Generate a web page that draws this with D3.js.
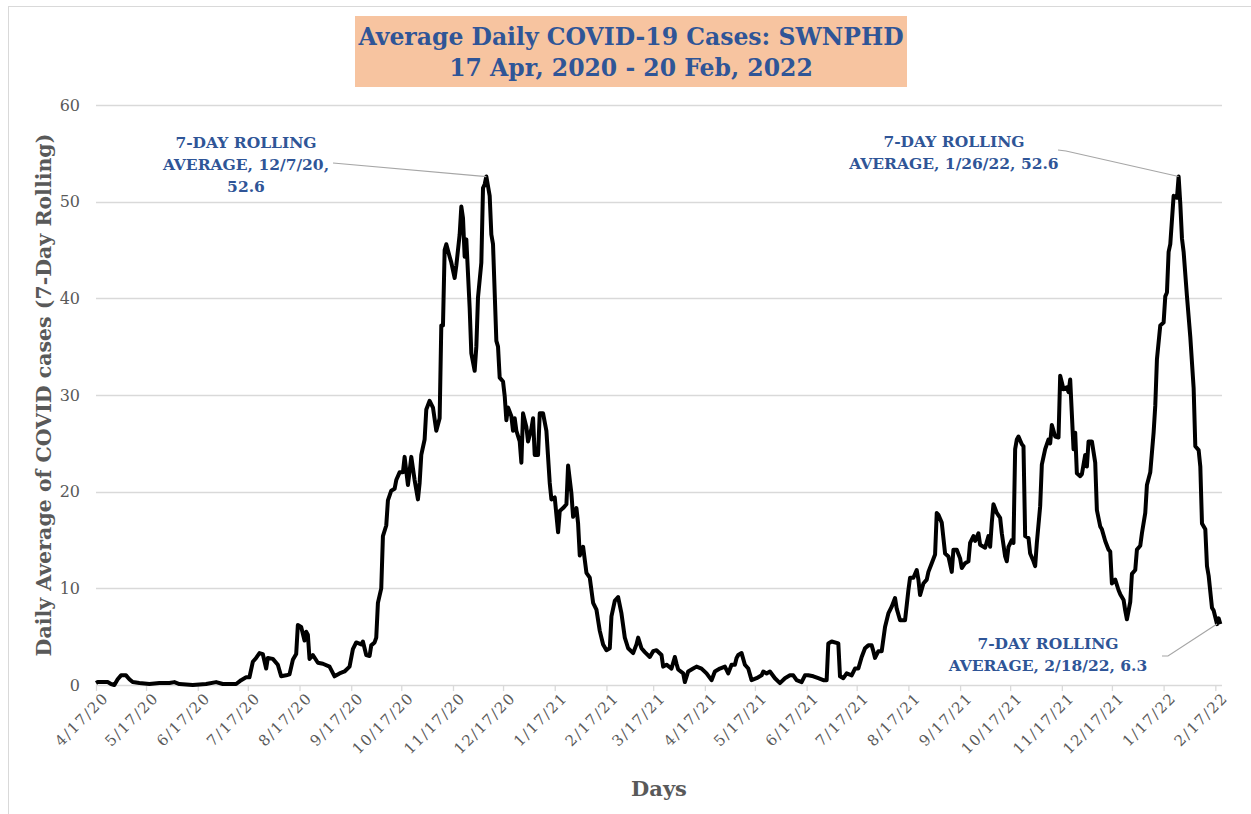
<!DOCTYPE html>
<html>
<head>
<meta charset="utf-8">
<script src="https://cdn.jsdelivr.net/npm/d3@7"></script>
<style>
  body { margin: 0; background: #fff; }
  svg { display: block; }
</style>
</head>
<body>
<div id="chart"></div>
<script>
// series: days since 17 Apr 2020, 7-day rolling average of daily cases
var startDate = new Date(2020, 3, 17);
var endDate = new Date(2022, 1, 21);
var dayIdx = [0,1,7,9,11,13,15,18,20,22,26,32,38,44,47,50,58,66,72,76,84,87,90,92,94,96,98,100,102,103,106,109,111,114,116,118,120,121,123,125,126,127,128,130,133,136,140,143,146,149,152,154,156,159,160,162,164,165,167,168,169,171,172,174,175,177,179,180,182,184,185,187,189,191,193,194,195,197,198,200,202,204,206,207,208,209,210,212,213,215,216,218,219,220,221,222,224,225,227,228,229,231,232,233,234,236,237,238,240,241,242,244,245,246,247,249,250,251,252,254,255,256,258,259,261,262,263,265,266,268,270,272,273,275,277,278,280,282,283,285,286,288,289,290,292,294,296,298,300,302,304,306,308,309,311,313,315,317,319,322,324,325,327,329,332,334,336,339,340,342,345,347,348,349,352,353,355,358,360,363,366,369,371,374,377,379,381,383,384,385,387,389,391,393,396,399,400,402,404,407,410,413,416,418,420,423,425,427,430,433,436,438,439,441,445,446,448,450,453,455,457,459,461,463,465,466,467,469,471,473,475,477,479,480,482,485,487,488,490,492,493,494,496,498,499,501,503,504,505,507,509,511,513,514,516,518,519,521,523,524,526,527,529,530,533,535,536,537,538,540,542,543,545,546,547,549,550,551,552,553,555,556,557,559,560,562,563,564,566,567,569,571,572,573,575,577,578,580,582,583,584,586,587,588,590,591,593,594,595,597,599,600,602,603,605,607,608,609,611,613,614,616,617,618,620,621,623,624,626,627,629,630,632,634,635,636,638,640,641,642,643,644,646,648,649,650,651,652,654,656,658,659,661,662,663,665,666,667,669,670,671,672,673,674];
var cases = [0.2,0.3,0.3,0.1,0.0,0.6,1.0,1.0,0.6,0.3,0.2,0.1,0.2,0.2,0.3,0.1,0.0,0.1,0.3,0.1,0.1,0.5,0.8,0.8,2.4,2.8,3.3,3.2,1.7,2.8,2.7,2.1,0.9,1.0,1.1,2.6,3.2,6.2,6.0,4.6,5.5,5.2,2.7,3.1,2.3,2.2,1.9,0.9,1.2,1.4,1.9,3.7,4.4,4.2,4.5,3.1,3.0,4.1,4.4,4.9,8.5,10.0,15.4,16.5,19.1,20.1,20.3,21.2,22.0,22.0,23.6,20.7,23.6,21.2,19.2,20.9,23.8,25.4,28.5,29.4,28.7,26.3,27.6,37.2,37.2,45.0,45.6,44.3,43.7,42.1,43.4,46.6,49.5,48.3,44.3,46.1,39.0,34.3,32.5,35.0,40.1,43.7,51.4,51.8,52.6,50.6,46.6,45.6,35.6,35.0,31.8,31.4,29.9,27.4,28.7,27.8,26.3,27.6,26.3,25.2,23.0,28.1,26.7,25.2,26.5,27.6,23.8,23.8,28.1,28.1,26.3,20.9,19.2,19.4,15.8,18.0,18.3,18.7,22.7,19.8,17.4,18.3,16.7,13.4,14.3,11.6,11.1,8.5,7.8,5.6,4.2,3.6,3.8,7.1,8.7,9.1,7.4,4.9,3.8,3.3,4.2,4.9,3.8,3.4,2.9,3.5,3.6,3.1,1.9,2.1,1.7,2.9,2.2,1.6,1.2,0.3,1.4,1.7,1.9,1.7,1.2,0.5,1.4,1.7,1.9,1.2,2.1,2.1,2.8,3.1,3.3,2.1,1.7,0.5,0.7,1.0,1.4,1.2,1.4,0.7,0.2,0.7,1.0,1.0,0.5,0.3,1.0,1.0,0.9,0.7,0.5,0.5,4.3,4.5,4.3,0.9,0.7,1.2,1.0,1.7,1.7,2.9,3.8,4.1,4.1,3.5,2.8,3.5,3.5,6.0,7.4,8.1,9.0,7.9,6.7,6.7,9.8,11.1,11.1,11.9,10.9,9.3,10.5,10.9,11.7,12.6,13.5,17.8,17.6,16.8,13.6,13.3,11.7,14.0,14.0,13.1,12.1,12.6,12.8,14.7,15.4,14.9,15.7,14.5,14.2,15.4,14.3,16.8,18.7,17.8,17.3,15.7,13.3,12.8,14.3,15.0,14.7,24.4,25.4,25.7,24.9,24.7,15.4,15.2,13.6,12.8,12.3,14.7,18.5,22.8,24.4,25.4,25.0,26.9,25.7,25.6,32.0,30.6,30.8,30.3,31.6,24.4,26.1,21.9,21.6,21.8,23.8,22.6,25.2,25.2,23.0,18.1,16.4,16.1,14.9,14.0,13.8,10.5,10.9,9.8,9.4,8.8,7.7,6.8,8.6,11.5,11.9,14.0,14.4,15.7,17.8,20.7,22.0,26.1,28.9,33.7,37.2,37.5,40.2,40.6,44.8,45.6,50.6,50.4,52.6,49.8,46.2,44.8,40.2,36.0,30.7,24.7,24.3,22.6,16.7,16.1,12.3,11.3,8.0,7.7,7.0,6.3,6.9,6.3];

var xTickLabels = ["4/17/20","5/17/20","6/17/20","7/17/20","8/17/20","9/17/20","10/17/20","11/17/20","12/17/20","1/17/21","2/17/21","3/17/21","4/17/21","5/17/21","6/17/21","7/17/21","8/17/21","9/17/21","10/17/21","11/17/21","12/17/21","1/17/22","2/17/22"];
var yTicks = [0, 10, 20, 30, 40, 50, 60];

var titleLines = ["Average Daily COVID-19 Cases: SWNPHD", "17 Apr, 2020 - 20 Feb, 2022"];
var yTitle = "Daily Average of COVID cases (7-Day Rolling)";
var xTitle = "Days";

// data labels: which day they point at, and their text lines
var callouts = [
  {day: 234, lines: ["7-DAY ROLLING", "AVERAGE, 12/7/20,", "52.6"]},
  {day: 649, lines: ["7-DAY ROLLING", "AVERAGE, 1/26/22, 52.6"]},
  {day: 672, lines: ["7-DAY ROLLING", "AVERAGE, 2/18/22, 6.3"]}
];

var width = 1251, height = 814;
var margin = {top: 105, right: 29, bottom: 129, left: 96};
var serif = "'DejaVu Serif', 'Liberation Serif', serif";
var gray = "#595959", blue = "#2F5597", gridColor = "#D9D9D9";

var parseTick = d3.timeParse("%m/%d/%y");
var data = dayIdx.map(function (d, i) {
  return {date: d3.timeDay.offset(startDate, d), value: cases[i]};
});

var svg = d3.select("#chart").append("svg")
    .attr("width", width)
    .attr("height", height);

// chart frame (only top and left edges fall inside the picture)
svg.append("rect")
    .attr("x", 8.5).attr("y", 6.5)
    .attr("width", 1400).attr("height", 1000)
    .attr("fill", "none")
    .attr("stroke", gridColor);

var x = d3.scaleTime()
    .domain([startDate, endDate])
    .range([margin.left, width - margin.right]);
var y = d3.scaleLinear()
    .domain([0, 60])
    .range([height - margin.bottom, margin.top]);

// gridlines
svg.append("g")
  .selectAll("line")
  .data(yTicks.slice(1))
  .enter().append("line")
    .attr("x1", margin.left)
    .attr("x2", width - margin.right)
    .attr("y1", function (d) { return Math.round(y(d)) + 0.5; })
    .attr("y2", function (d) { return Math.round(y(d)) + 0.5; })
    .attr("stroke", gridColor)
    .attr("stroke-width", 1.3);

// y axis labels
var yAxis = svg.append("g")
    .attr("transform", "translate(" + margin.left + ",0)")
    .call(d3.axisLeft(y).tickValues(yTicks).tickSize(0).tickPadding(16));
yAxis.select(".domain").remove();
yAxis.selectAll("text")
    .attr("fill", gray)
    .style("font-family", serif)
    .style("font-size", "16px");

// x axis
var xAxis = svg.append("g")
    .attr("transform", "translate(0," + y(0) + ")")
    .call(d3.axisBottom(x).tickValues(xTickLabels.map(parseTick)).tickSize(6).tickFormat(function (d, i) { return xTickLabels[i]; }));
xAxis.select(".domain")
    .attr("stroke", gridColor)
    .attr("stroke-width", 1.3)
    .attr("d", "M" + margin.left + ",0.5H" + (width - margin.right));
xAxis.selectAll(".tick line")
    .attr("stroke", gridColor)
    .attr("stroke-width", 1.3);
xAxis.selectAll(".tick text")
    .attr("fill", gray)
    .style("font-family", serif)
    .style("font-size", "15px")
    .style("letter-spacing", "1.5px")
    .attr("text-anchor", "end")
    .attr("dy", "0.35em")
    .attr("transform", "translate(5,6) rotate(-45)")
    .attr("x", 0)
    .attr("y", 6);

// line
var line = d3.line()
    .x(function (d) { return x(d.date); })
    .y(function (d) { return y(d.value); });

svg.append("path")
    .datum(data)
    .attr("fill", "none")
    .attr("stroke", "#000")
    .attr("stroke-width", 4)
    .attr("stroke-linejoin", "round")
    .attr("d", line);

// axis titles
svg.append("text")
    .attr("transform", "translate(51," + (y(30)) + ") rotate(-90)")
    .attr("text-anchor", "middle")
    .attr("fill", gray)
    .style("font-family", serif)
    .style("font-weight", "bold")
    .style("font-size", "20.5px")
    .text(yTitle);

svg.append("text")
    .attr("x", 659)
    .attr("y", 796)
    .attr("text-anchor", "middle")
    .attr("fill", gray)
    .style("font-family", serif)
    .style("font-weight", "bold")
    .style("font-size", "21px")
    .text(xTitle);

// title box
svg.append("rect")
    .attr("x", 355).attr("y", 16)
    .attr("width", 552).attr("height", 71)
    .attr("fill", "#F7C4A0");

svg.selectAll(".title")
    .data(titleLines)
  .enter().append("text")
    .attr("class", "title")
    .attr("x", 631)
    .attr("y", function (d, i) { return 45 + i * 31; })
    .attr("text-anchor", "middle")
    .attr("fill", blue)
    .style("font-family", serif)
    .style("font-weight", "bold")
    .style("font-size", "23.5px")
    .text(function (d) { return d; });

// callouts: text block position and where the leader line leaves it
var calloutLayout = [
  {tx: 246, ty: 148, lead: [[333, 163]]},
  {tx: 954, ty: 147, lead: [[1058, 150], [1066, 151]]},
  {tx: 1048, ty: 649, lead: [[1162, 656], [1168, 656]]}
];

callouts.forEach(function (c, k) {
  var lay = calloutLayout[k];
  var target = data.filter(function (d) { return +d.date === +d3.timeDay.offset(startDate, c.day); })[0];
  var pts = lay.lead.concat([[x(target.date), y(target.value)]]);
  svg.append("path")
      .attr("d", d3.line()(pts))
      .attr("fill", "none")
      .attr("stroke", "#A6A6A6")
      .attr("stroke-width", 1.2);
  svg.append("g").selectAll("text")
      .data(c.lines)
    .enter().append("text")
      .attr("x", lay.tx)
      .attr("y", function (d, i) { return lay.ty + i * 22; })
      .attr("text-anchor", "middle")
      .attr("fill", blue)
      .style("font-family", serif)
      .style("font-weight", "bold")
      .style("font-size", "15.5px")
      .text(function (d) { return d; });
});
</script>
</body>
</html>
